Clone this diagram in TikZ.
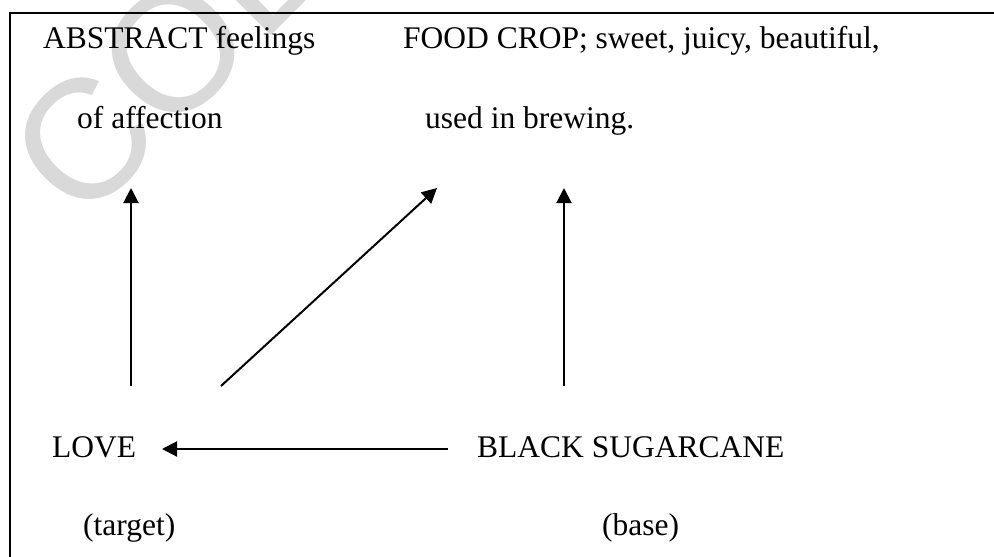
\documentclass[tikz,border=0pt]{standalone}
\usepackage{fontspec}
\setmainfont{Liberation Serif}
\newfontfamily\wmfont{Liberation Sans}
\usetikzlibrary{arrows.meta}
\begin{document}
\begin{tikzpicture}[x=1pt,y=-1pt,
  lbl/.style={anchor=base west, inner sep=0pt, font=\fontsize{31.5}{38}\selectfont},
  link/.style={line width=2pt, -{Triangle[length=15pt,width=15pt]}},
  frame/.style={line width=2.2pt}]
\useasboundingbox (0,0) rectangle (994,557);
\clip (0,0) rectangle (994,557);
% faint watermark behind the figure
\node[anchor=west, rotate=45, inner sep=0pt, text=black!15,
      font=\wmfont\fontsize{170}{170}\selectfont] (wm) at (40,185) {CODESRIA};
% frame (top and left edges)
\draw[frame] (10,600) -- (10,13) -- (1000,13);
% labels
\node[lbl] (abs1) at (43,48) {ABSTRACT feelings};
\node[lbl] (abs2) at (77,128) {of affection};
\node[lbl] (food1) at (403,48) {FOOD CROP; sweet, juicy, beautiful,};
\node[lbl] (food2) at (425,128) {used in brewing.};
\node[lbl] (love) at (52,457) {LOVE};
\node[lbl] (cane) at (477,457) {BLACK SUGARCANE};
\node[lbl] (tgt) at (83,535) {(target)};
\node[lbl] (base) at (602,535) {(base)};
% arrow end points
\coordinate (loveUp) at (131,386);
\coordinate (absDown) at (131,188);
\coordinate (loveDiag) at (221,386);
\coordinate (foodDiag) at (437,188);
\coordinate (caneUp) at (564,386);
\coordinate (foodDown) at (564,188);
\coordinate (caneLeft) at (448,449);
\coordinate (loveRight) at (162,449);
% mappings
\draw[link] (loveUp) -- (absDown);
\draw[link] (loveDiag) -- (foodDiag);
\draw[link] (caneUp) -- (foodDown);
\draw[link] (caneLeft) -- (loveRight);
\end{tikzpicture}
\end{document}
